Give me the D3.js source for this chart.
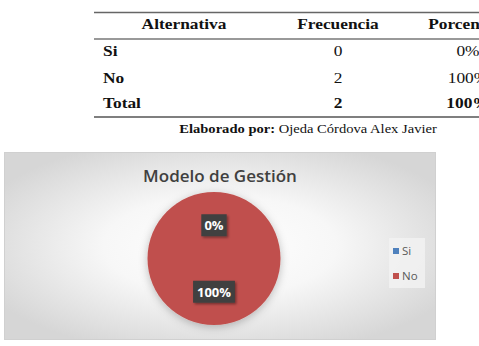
<!DOCTYPE html>
<html><head><meta charset="utf-8">
<script src="https://cdn.jsdelivr.net/npm/d3@7"></script>
<style>body{margin:0;background:#fff}svg{display:block}</style>
</head><body>
<script>
const headers = ["Alternativa", "Frecuencia", "Porcentaje"];
const alternatives = ["Si", "No", "Total"];
const frequencies = [0, 2, 2];
const percentLabels = ["0%", "100%", "100%"];
const credit = ["Elaborado por:", " Ojeda Córdova Alex Javier"];
const chartTitle = "Modelo de Gestión";
const categories = ["Si", "No"];
const values = [0, 2];
const sliceLabels = ["0%", "100%"];
const colors = ["#4F81BD", "#C0504D"];

const W = 479, H = 346;
const svg = d3.select("body").append("svg").attr("width", W).attr("height", H);
const defs = svg.append("defs");

// ---------- table ----------
const serif = "'Liberation Serif','Times New Roman',serif";
const stretch = "scale(1.12,1)";
const t = svg.append("g");
t.append("line").attr("x1", 94).attr("x2", W).attr("y1", 12.5).attr("y2", 12.5).attr("stroke", "#666").attr("stroke-width", 1.3);
t.append("line").attr("x1", 94).attr("x2", W).attr("y1", 39).attr("y2", 39).attr("stroke", "#999").attr("stroke-width", 2);
t.append("line").attr("x1", 94).attr("x2", W).attr("y1", 117).attr("y2", 117).attr("stroke", "#555").attr("stroke-width", 1.3);

function txt(x, y, s, anchor, bold, size) {
  t.append("text").attr("transform", `translate(${x},${y}) ${stretch}`)
    .attr("text-anchor", anchor).attr("font-family", serif)
    .attr("font-size", size || 15.5).attr("font-weight", bold ? "bold" : "normal")
    .attr("fill", "#111").text(s);
}
const colX = [184, 338, 468];
headers.forEach((h, i) => txt(colX[i], 29, h, "middle", true));
const rowY = [56, 83, 108];
alternatives.forEach((a, i) => {
  const bold = i === 2;
  txt(103, rowY[i], a, "start", true);
  txt(colX[1], rowY[i], String(frequencies[i]), "middle", bold);
  txt(colX[2], rowY[i], percentLabels[i], "middle", bold);
});
const cr = t.append("text").attr("transform", `translate(308,133) ${stretch}`)
  .attr("text-anchor", "middle").attr("font-family", serif).attr("font-size", 13).attr("fill", "#111");
cr.append("tspan").attr("font-weight", "bold").text(credit[0]);
cr.append("tspan").text(credit[1]);

// ---------- chart ----------
const box = {x: 4.5, y: 152.5, w: 431, h: 187};
const rg = defs.append("radialGradient").attr("id", "bg").attr("cx", "50%").attr("cy", "50%").attr("r", "60%");
rg.append("stop").attr("offset", "0%").attr("stop-color", "#ffffff");
rg.append("stop").attr("offset", "45%").attr("stop-color", "#f7f7f7");
rg.append("stop").attr("offset", "100%").attr("stop-color", "#d6d6d6");
svg.append("rect").attr("x", box.x).attr("y", box.y).attr("width", box.w).attr("height", box.h)
  .attr("fill", "url(#bg)").attr("stroke", "#d0d0d0").attr("stroke-width", 1);

svg.append("text").attr("x", 220).attr("y", 182).attr("text-anchor", "middle")
  .attr("font-family", "'Open Sans','Noto Sans',sans-serif").attr("font-size", 17).attr("font-weight", 600)
  .attr("fill", "#404040").text(chartTitle);

const f1 = defs.append("filter").attr("id", "pshadow").attr("x", "-30%").attr("y", "-30%").attr("width", "160%").attr("height", "160%");
f1.append("feDropShadow").attr("dx", 0).attr("dy", 2).attr("stdDeviation", 4).attr("flood-color", "#000").attr("flood-opacity", 0.25);
const f2 = defs.append("filter").attr("id", "lshadow").attr("x", "-30%").attr("y", "-30%").attr("width", "160%").attr("height", "160%");
f2.append("feDropShadow").attr("dx", 1.5).attr("dy", 1.5).attr("stdDeviation", 1).attr("flood-color", "#000").attr("flood-opacity", 0.4);

const cx = 214, cy = 258.5, r = 66.5;
const color = d3.scaleOrdinal().domain(categories).range(colors);
const pie = d3.pie().sort(null).value((d, i) => values[i]);
const arcs = pie(categories);
const arc = d3.arc().innerRadius(0).outerRadius(r);
const pg = svg.append("g").attr("transform", `translate(${cx},${cy})`);
pg.append("g").attr("filter", "url(#pshadow)").selectAll("path").data(arcs).join("path")
  .attr("d", arc).attr("fill", d => color(d.data));

const lab = pg.selectAll("g.lab").data(arcs).join("g").attr("class", "lab")
  .attr("transform", d => { const c = arc.centroid(d); return `translate(${c[0]},${c[1]})`; });
lab.each(function(d, i) {
  const g = d3.select(this);
  const s = sliceLabels[i];
  const w = s.length * 8.2 + 9;
  g.append("rect").attr("x", -w / 2).attr("y", -11).attr("width", w).attr("height", 22)
    .attr("fill", "#404040").attr("filter", "url(#lshadow)");
  g.append("text").attr("text-anchor", "middle").attr("y", 5).attr("fill", "#fff")
    .attr("font-family", "'Open Sans','Noto Sans',sans-serif").attr("font-size", 13).attr("font-weight", "bold")
    .text(s);
});

// legend
const lg = svg.append("g");
lg.append("rect").attr("x", 389).attr("y", 238).attr("width", 36).attr("height", 50).attr("fill", "#f2f2f2").attr("opacity", 0.8);
const ly = d3.scalePoint().domain(categories).range([251, 276]);
categories.forEach(c => {
  lg.append("rect").attr("x", 393).attr("y", ly(c) - 3).attr("width", 6).attr("height", 6).attr("fill", color(c));
  lg.append("text").attr("x", 402).attr("y", ly(c) + 4).attr("font-family", "'Open Sans','Noto Sans',sans-serif")
    .attr("font-size", 11.5).attr("fill", "#595959").text(c);
});
</script>
</body></html>
